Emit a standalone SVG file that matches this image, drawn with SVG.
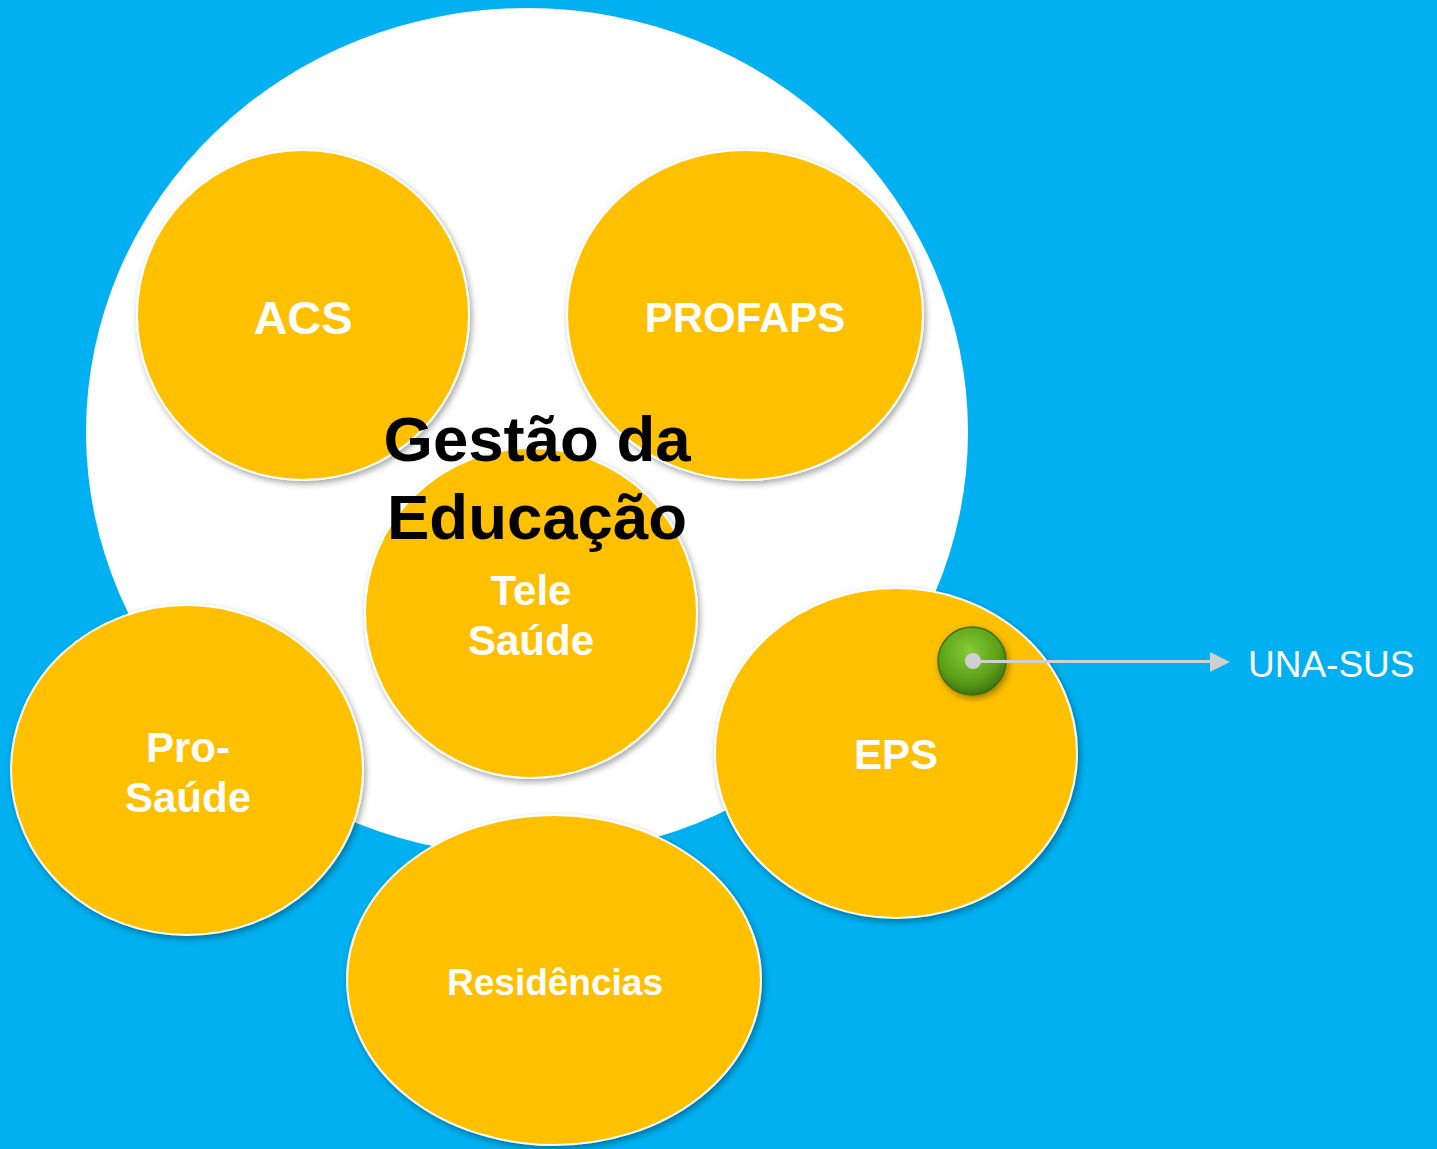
<svg xmlns="http://www.w3.org/2000/svg" width="1437" height="1149" viewBox="0 0 1437 1149">
<style>
.node{fill:#FFC000;stroke:#FFFFFF;stroke-width:2;filter:url(#sh)}
.lbl{font-family:"Liberation Sans",Arial,sans-serif;font-weight:bold;fill:#FFFFFF;text-anchor:middle}
.title{font-family:"Liberation Sans",Arial,sans-serif;font-weight:bold;fill:#000000;text-anchor:middle;font-size:63.5px}
</style>
<defs>
<filter id="sh" x="-10%" y="-10%" width="120%" height="120%">
<feDropShadow dx="2" dy="3" stdDeviation="3" flood-color="#000" flood-opacity="0.35"/>
</filter>
<radialGradient id="green" cx="0.45" cy="0.35" r="0.65">
<stop offset="0" stop-color="#86CC34"/>
<stop offset="0.7" stop-color="#5A9E18"/>
<stop offset="1" stop-color="#3E7410"/>
</radialGradient>
</defs>
<rect width="1437" height="1149" fill="#00B0F0"/>
<g id="gestao-bg">
<ellipse cx="527" cy="432" rx="441" ry="424" fill="#FFFFFF"/>
</g>
<g id="acs">
<ellipse class="node" cx="303" cy="315" rx="166" ry="165"/>
<text class="lbl" x="303" y="334" font-size="47">ACS</text>
</g>
<g id="profaps">
<ellipse class="node" cx="745" cy="315" rx="178" ry="165"/>
<text class="lbl" x="745" y="332" font-size="42">PROFAPS</text>
</g>
<g id="telesaude">
<ellipse class="node" cx="531" cy="613" rx="166" ry="165"/>
<text class="lbl" x="531" y="605" font-size="42">Tele</text>
<text class="lbl" x="531" y="655" font-size="42">Saúde</text>
</g>
<g id="prosaude">
<ellipse class="node" cx="187" cy="770" rx="176" ry="165"/>
<text class="lbl" x="188" y="762" font-size="42">Pro-</text>
<text class="lbl" x="188" y="812" font-size="42">Saúde</text>
</g>
<g id="eps">
<ellipse class="node" cx="896" cy="753" rx="181" ry="165"/>
<text class="lbl" x="896" y="769" font-size="42">EPS</text>
</g>
<g id="residencias">
<ellipse class="node" cx="554" cy="980" rx="207" ry="165"/>
<text class="lbl" x="555" y="995" font-size="37">Residências</text>
</g>
<g id="gestao-title">
<text class="title" x="537" y="461">Gestão da</text>
<text class="title" x="537" y="539">Educação</text>
</g>
<g id="una-sus">
<circle cx="972" cy="661" r="34" fill="url(#green)" stroke="#3A6E12" stroke-width="1.5" filter="url(#sh)"/>
<text x="1248" y="677" font-family="Liberation Sans,Arial,sans-serif" font-size="37" fill="#FFFFFF">UNA-SUS</text>
</g>
<g id="connectors">
<line x1="973" y1="661" x2="1214" y2="662" stroke="#D0D0D0" stroke-width="5" filter="url(#sh)"/>
<path d="M1210,652 L1230,662 L1210,672 Z" fill="#D0D0D0"/>
<circle cx="973" cy="661" r="8" fill="#D0D0D0"/>
</g>
</svg>
